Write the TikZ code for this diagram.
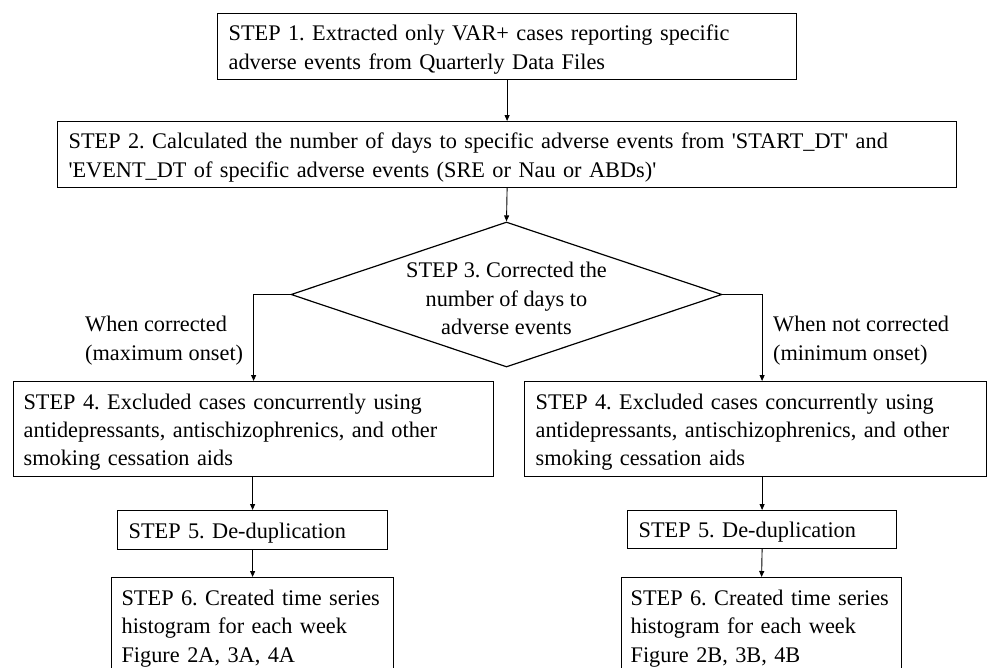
\documentclass[tikz,border=0pt]{standalone}
\usepackage{fontspec}
\newfontfamily\reffont{Liberation Serif}
\usetikzlibrary{shapes.geometric,arrows.meta}
\tikzset{
  txt/.style={font=\reffont\fontsize{22.3}{28.3}\selectfont},
  stepbox/.style={txt, draw, line width=1.2pt, inner xsep=11pt, inner ysep=0pt, anchor=north west, align=left,
    text height=21.5pt},
  lab/.style={txt, inner sep=0pt, align=left, anchor=west},
  arr/.style={line width=0.9pt, -{Triangle[length=6pt,width=5pt]}},
}
\begin{document}
\frenchspacing
\hyphenpenalty=10000
\begin{tikzpicture}[x=1pt,y=-1pt]
\useasboundingbox (0,0) rectangle (988,667);
\fill[white] (0,0) rectangle (988,667);

\node[stepbox, text width=557pt, minimum height=66pt] (box1) at (217,13)
  {STEP 1. Extracted only VAR+ cases reporting specific\\adverse events from Quarterly Data Files};
\node[stepbox, text width=877pt, minimum height=66pt] (box2) at (57,121)
  {STEP 2. Calculated the number of days to specific adverse events from 'START\_DT' and\\'EVENT\_DT of specific adverse events (SRE or Nau or ABDs)'};
\node[diamond, draw, line width=1.2pt, inner sep=0pt, minimum width=431pt, minimum height=145pt] (dia) at (506.5,294.5) {};
\node[txt, align=center, inner sep=0pt] (diatext) at ([yshift=-4pt]dia.center) {STEP 3. Corrected the\\number of days to\\adverse events};

\node[lab] (labl) at (85,340.5) {When corrected\\(maximum onset)};
\node[lab] (labr) at (773,340.5) {When not corrected\\(minimum onset)};

\node[stepbox, inner xsep=10pt, text width=460pt, minimum height=95pt] (box4l) at (13,381)
  {STEP 4. Excluded cases concurrently using\\antidepressants, antischizophrenics, and other\\smoking cessation aids};
\node[stepbox, text width=440pt, minimum height=95pt] (box4r) at (524,381)
  {STEP 4. Excluded cases concurrently using\\antidepressants, antischizophrenics, and other\\smoking cessation aids};
\node[stepbox, text width=248pt, minimum height=39pt] (box5l) at (117,510) {STEP 5. De-duplication};
\node[stepbox, text width=247pt, minimum height=38pt] (box5r) at (627,510) {STEP 5. De-duplication};
\node[stepbox, inner xsep=10pt, text width=262pt, minimum height=96pt] (box6l) at (111,577)
  {STEP 6. Created time series\\histogram for each week\\Figure 2A, 3A, 4A};
\node[stepbox, inner xsep=9pt, text width=262pt, minimum height=96pt] (box6r) at (621,577)
  {STEP 6. Created time series\\histogram for each week\\Figure 2B, 3B, 4B};

\draw[arr] (box1.south) -- (box2.north);
\draw[arr] (box2.south) -- (dia.north);
\draw[arr] (dia.west) -| (box4l.north);
\draw[arr] (dia.east) -| (box5r.north |- box4r.north);
\draw[arr] (box4l.south -| box5l.north) -- (box5l.north);
\draw[arr] (box5l.south) -- (box6l.north);
\draw[arr] (box5r.north |- box4r.south) -- (box5r.north);
\draw[arr] (box5r.south) -- (box6r.north);
\end{tikzpicture}
\end{document}
